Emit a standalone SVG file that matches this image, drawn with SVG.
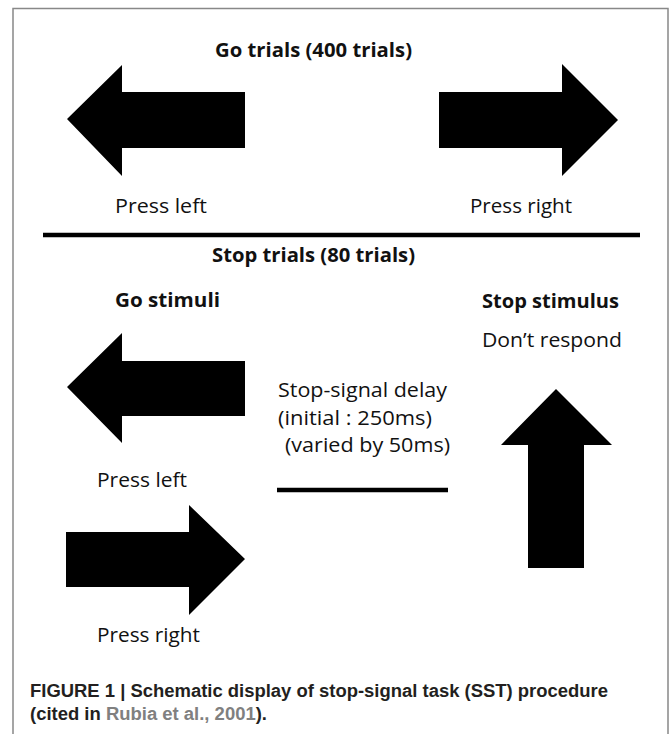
<svg xmlns="http://www.w3.org/2000/svg" width="670" height="734" viewBox="0 0 670 734">
<style>
.t{font-family:"Open Sans","Liberation Sans",sans-serif;font-size:20px;fill:#111}
.b{font-weight:bold}
.cap{font-family:"Liberation Sans",Arial,sans-serif;font-size:17.5px;font-weight:bold;fill:#231f20}
.ref{fill:#808080}
.arrow{fill:#000}
.rule{stroke:#000;stroke-width:4.5;fill:none}
</style>
<rect width="670" height="734" fill="#fff"/>
<path d="M13,734 V8.5 H668 V734" fill="none" stroke="#888" stroke-width="1.5"/>

<g id="go-trials">
<text class="t b" x="215" y="57" textLength="197" lengthAdjust="spacingAndGlyphs">Go trials (400 trials)</text>
</g>
<g id="go-left">
<polygon class="arrow" points="67,119 122,65 122,92 245,92 245,148 122,148 122,176"/>
<text class="t" x="115" y="213" textLength="92" lengthAdjust="spacingAndGlyphs">Press left</text>
</g>
<g id="go-right">
<polygon class="arrow" points="618,120 562,64 562,92 439,92 439,148 562,148 562,176"/>
<text class="t" x="470" y="213" textLength="102" lengthAdjust="spacingAndGlyphs">Press right</text>
</g>

<g id="connectors">
<line class="rule" x1="43" y1="235" x2="640" y2="235"/>
<line class="rule" x1="277" y1="490" x2="448" y2="490"/>
</g>

<g id="stop-trials">
<text class="t b" x="212" y="262" textLength="203" lengthAdjust="spacingAndGlyphs">Stop trials (80 trials)</text>
</g>
<g id="go-stimuli">
<text class="t b" x="115" y="307" textLength="105" lengthAdjust="spacingAndGlyphs">Go stimuli</text>
<polygon class="arrow" points="67,387 122,333 122,361 245,361 245,416 122,416 122,443"/>
<text class="t" x="97" y="487" textLength="90" lengthAdjust="spacingAndGlyphs">Press left</text>
<polygon class="arrow" points="245,559 189,505 189,532 66,532 66,587 189,587 189,615"/>
<text class="t" x="97" y="642" textLength="103" lengthAdjust="spacingAndGlyphs">Press right</text>
</g>
<g id="delay">
<text class="t" x="278" y="397" textLength="169" lengthAdjust="spacingAndGlyphs">Stop-signal delay</text>
<text class="t" x="278" y="425" textLength="154" lengthAdjust="spacingAndGlyphs">(initial : 250ms)</text>
<text class="t" x="285" y="452" textLength="165" lengthAdjust="spacingAndGlyphs">(varied by 50ms)</text>
</g>
<g id="stop-stimulus">
<text class="t b" x="482" y="308" textLength="137" lengthAdjust="spacingAndGlyphs">Stop stimulus</text>
<text class="t" x="482" y="347" textLength="140" lengthAdjust="spacingAndGlyphs">Don’t respond</text>
<polygon class="arrow" points="556,389 612,445 584,445 584,568 528,568 528,445 501,445"/>
</g>

<g id="caption">
<text class="cap" x="30" y="697" textLength="578" lengthAdjust="spacingAndGlyphs">FIGURE 1 | Schematic display of stop-signal task (SST) procedure</text>
<text class="cap" x="30" y="720" textLength="237" lengthAdjust="spacingAndGlyphs">(cited in <tspan class="ref">Rubia et al., 2001</tspan>).</text>
</g>
</svg>
